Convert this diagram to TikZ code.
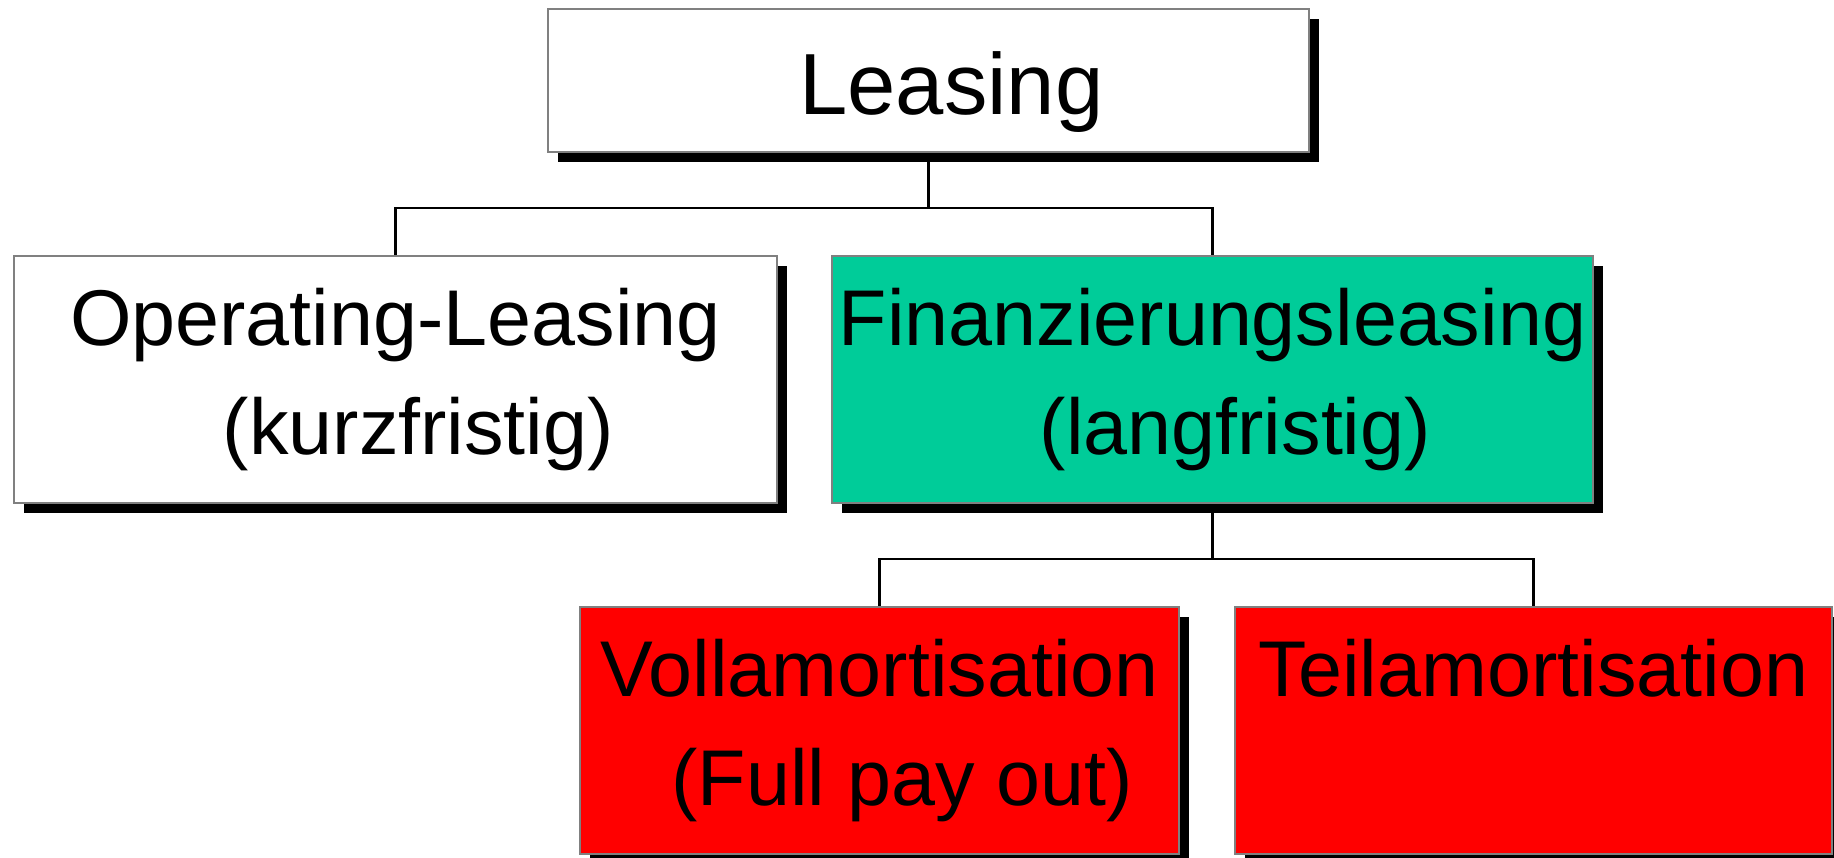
\documentclass[tikz,border=0pt]{standalone}
\usepackage{fontspec}
\setmainfont{Liberation Sans}
\usetikzlibrary{shadows}
\definecolor{fingreen}{RGB}{0,204,153}

\begin{document}
\begin{tikzpicture}[
  leasbox/.style={draw=gray,line width=.8pt,inner sep=0pt,align=center,
    minimum height=2.47cm,font=\fontsize{22.5}{31}\selectfont,
    drop shadow={shadow xshift=.1cm,shadow yshift=-.1cm,fill=black,opacity=1}},
  link/.style={line width=.6pt}
]

\useasboundingbox (0,0) rectangle (18.34,-8.58);

\node [leasbox,fill=white,minimum width=7.61cm,minimum height=1.43cm,
  font=\fontsize{24.7}{31}\selectfont,text height=20pt,text depth=.6pt]
  (leasing) at (9.285,-.805) {\hspace*{13pt}Leasing};

\node [leasbox,fill=white,minimum width=7.63cm] (operating) at (3.955,-3.795)
  {Operating-Leasing\\\hspace*{13pt}(kurzfristig)};
\node [leasbox,fill=fingreen,minimum width=7.61cm] (finance) at (12.125,-3.795)
  {Finanzierungsleasing\\\hspace*{13pt}(langfristig)};

\node [leasbox,fill=red,minimum width=5.99cm] (fullpay) at (8.795,-7.305)
  {Vollamortisation\\\hspace*{13pt}(Full pay out)};
\node [leasbox,fill=red,minimum width=5.97cm] (partpay) at (15.335,-7.305)
  {Teilamortisation\\\vphantom{(}};

% connectors
\coordinate (top fork) at (9.285,-2.08);
\draw [link] (leasing.south) -- (top fork);
\draw [link] (operating.north) |- (top fork) -| (finance.north);

\coordinate (low fork) at (12.125,-5.59);
\draw [link] (finance.south) -- (low fork);
\draw [link] (fullpay.north) |- (low fork) -| (partpay.north);

\end{tikzpicture}
\end{document}
